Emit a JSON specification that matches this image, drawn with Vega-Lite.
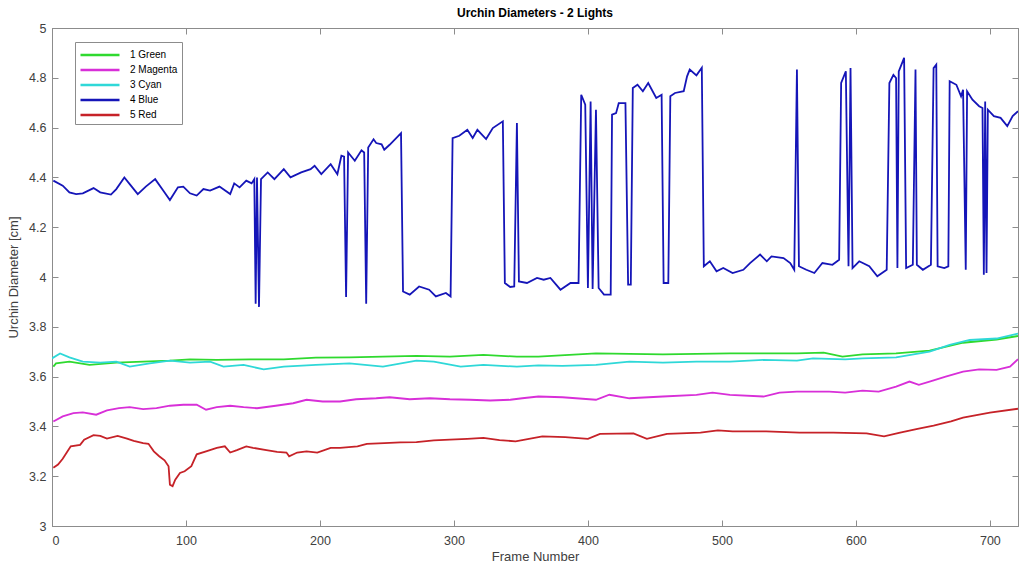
{
  "$schema": "https://vega.github.io/schema/vega-lite/v6.json",
  "width": 966,
  "height": 498,
  "autosize": "none",
  "padding": {"left": 52, "top": 28, "right": 1, "bottom": 42},
  "background": "white",
  "title": {"text": "Urchin Diameters - 2 Lights", "fontSize": 12, "fontWeight": "bold", "font": "Liberation Sans", "color": "#000000", "offset": 2},
  "config": {
    "view": {"stroke": "#8c8c8c", "strokeWidth": 1},
    "axis": {"grid": false, "domainColor": "#8c8c8c", "tickColor": "#8c8c8c", "labelColor": "#404040", "titleColor": "#404040", "labelFont": "Liberation Sans", "titleFont": "Liberation Sans", "labelFontSize": 12.5, "titleFontSize": 13, "titleFontWeight": "normal"}
  },
  "data": {"values": [
    {"s":"1 Green","f":1,"v":3.64},{"s":"1 Green","f":3,"v":3.653},{"s":"1 Green","f":13,"v":3.66},{"s":"1 Green","f":28,"v":3.647},{"s":"1 Green","f":48,"v":3.656},{"s":"1 Green","f":68,"v":3.66},{"s":"1 Green","f":88,"v":3.664},{"s":"1 Green","f":103,"v":3.669},{"s":"1 Green","f":123,"v":3.667},{"s":"1 Green","f":148,"v":3.669},{"s":"1 Green","f":173,"v":3.669},{"s":"1 Green","f":197,"v":3.676},{"s":"1 Green","f":222,"v":3.677},{"s":"1 Green","f":247,"v":3.68},{"s":"1 Green","f":272,"v":3.683},{"s":"1 Green","f":297,"v":3.68},{"s":"1 Green","f":322,"v":3.687},{"s":"1 Green","f":347,"v":3.68},{"s":"1 Green","f":363,"v":3.68},{"s":"1 Green","f":406,"v":3.693},{"s":"1 Green","f":456,"v":3.689},{"s":"1 Green","f":506,"v":3.693},{"s":"1 Green","f":556,"v":3.693},{"s":"1 Green","f":576,"v":3.696},{"s":"1 Green","f":590,"v":3.68},{"s":"1 Green","f":605,"v":3.689},{"s":"1 Green","f":630,"v":3.693},{"s":"1 Green","f":655,"v":3.704},{"s":"1 Green","f":680,"v":3.736},{"s":"1 Green","f":705,"v":3.749},{"s":"1 Green","f":721,"v":3.763},
    {"s":"2 Magenta","f":1,"v":3.42},{"s":"2 Magenta","f":8,"v":3.44},{"s":"2 Magenta","f":16,"v":3.453},{"s":"2 Magenta","f":23,"v":3.456},{"s":"2 Magenta","f":33,"v":3.447},{"s":"2 Magenta","f":41,"v":3.464},{"s":"2 Magenta","f":50,"v":3.473},{"s":"2 Magenta","f":58,"v":3.477},{"s":"2 Magenta","f":68,"v":3.469},{"s":"2 Magenta","f":78,"v":3.473},{"s":"2 Magenta","f":88,"v":3.483},{"s":"2 Magenta","f":98,"v":3.487},{"s":"2 Magenta","f":108,"v":3.487},{"s":"2 Magenta","f":115,"v":3.467},{"s":"2 Magenta","f":123,"v":3.477},{"s":"2 Magenta","f":133,"v":3.483},{"s":"2 Magenta","f":143,"v":3.477},{"s":"2 Magenta","f":153,"v":3.473},{"s":"2 Magenta","f":167,"v":3.483},{"s":"2 Magenta","f":180,"v":3.493},{"s":"2 Magenta","f":190,"v":3.507},{"s":"2 Magenta","f":202,"v":3.5},{"s":"2 Magenta","f":215,"v":3.5},{"s":"2 Magenta","f":227,"v":3.509},{"s":"2 Magenta","f":242,"v":3.513},{"s":"2 Magenta","f":252,"v":3.517},{"s":"2 Magenta","f":267,"v":3.509},{"s":"2 Magenta","f":282,"v":3.513},{"s":"2 Magenta","f":297,"v":3.509},{"s":"2 Magenta","f":312,"v":3.507},{"s":"2 Magenta","f":327,"v":3.504},{"s":"2 Magenta","f":342,"v":3.507},{"s":"2 Magenta","f":351,"v":3.513},{"s":"2 Magenta","f":363,"v":3.52},{"s":"2 Magenta","f":381,"v":3.517},{"s":"2 Magenta","f":406,"v":3.507},{"s":"2 Magenta","f":416,"v":3.527},{"s":"2 Magenta","f":431,"v":3.513},{"s":"2 Magenta","f":456,"v":3.52},{"s":"2 Magenta","f":481,"v":3.527},{"s":"2 Magenta","f":493,"v":3.536},{"s":"2 Magenta","f":506,"v":3.527},{"s":"2 Magenta","f":531,"v":3.52},{"s":"2 Magenta","f":543,"v":3.536},{"s":"2 Magenta","f":556,"v":3.54},{"s":"2 Magenta","f":580,"v":3.54},{"s":"2 Magenta","f":592,"v":3.536},{"s":"2 Magenta","f":605,"v":3.544},{"s":"2 Magenta","f":617,"v":3.54},{"s":"2 Magenta","f":630,"v":3.56},{"s":"2 Magenta","f":640,"v":3.58},{"s":"2 Magenta","f":647,"v":3.567},{"s":"2 Magenta","f":655,"v":3.58},{"s":"2 Magenta","f":667,"v":3.6},{"s":"2 Magenta","f":680,"v":3.62},{"s":"2 Magenta","f":692,"v":3.629},{"s":"2 Magenta","f":705,"v":3.627},{"s":"2 Magenta","f":715,"v":3.64},{"s":"2 Magenta","f":721,"v":3.67},
    {"s":"3 Cyan","f":0,"v":3.673},{"s":"3 Cyan","f":6,"v":3.693},{"s":"3 Cyan","f":13,"v":3.677},{"s":"3 Cyan","f":23,"v":3.66},{"s":"3 Cyan","f":36,"v":3.656},{"s":"3 Cyan","f":48,"v":3.66},{"s":"3 Cyan","f":58,"v":3.64},{"s":"3 Cyan","f":73,"v":3.653},{"s":"3 Cyan","f":88,"v":3.664},{"s":"3 Cyan","f":103,"v":3.656},{"s":"3 Cyan","f":118,"v":3.66},{"s":"3 Cyan","f":128,"v":3.64},{"s":"3 Cyan","f":143,"v":3.647},{"s":"3 Cyan","f":158,"v":3.629},{"s":"3 Cyan","f":173,"v":3.64},{"s":"3 Cyan","f":197,"v":3.647},{"s":"3 Cyan","f":222,"v":3.653},{"s":"3 Cyan","f":247,"v":3.64},{"s":"3 Cyan","f":272,"v":3.664},{"s":"3 Cyan","f":285,"v":3.66},{"s":"3 Cyan","f":305,"v":3.64},{"s":"3 Cyan","f":322,"v":3.647},{"s":"3 Cyan","f":347,"v":3.64},{"s":"3 Cyan","f":363,"v":3.645},{"s":"3 Cyan","f":381,"v":3.643},{"s":"3 Cyan","f":406,"v":3.647},{"s":"3 Cyan","f":431,"v":3.66},{"s":"3 Cyan","f":456,"v":3.656},{"s":"3 Cyan","f":481,"v":3.66},{"s":"3 Cyan","f":506,"v":3.66},{"s":"3 Cyan","f":531,"v":3.667},{"s":"3 Cyan","f":556,"v":3.664},{"s":"3 Cyan","f":568,"v":3.673},{"s":"3 Cyan","f":592,"v":3.669},{"s":"3 Cyan","f":605,"v":3.673},{"s":"3 Cyan","f":630,"v":3.677},{"s":"3 Cyan","f":655,"v":3.7},{"s":"3 Cyan","f":670,"v":3.727},{"s":"3 Cyan","f":685,"v":3.747},{"s":"3 Cyan","f":705,"v":3.753},{"s":"3 Cyan","f":721,"v":3.773},
    {"s":"4 Blue","f":1,"v":4.387},{"s":"4 Blue","f":8,"v":4.367},{"s":"4 Blue","f":13,"v":4.34},{"s":"4 Blue","f":18,"v":4.333},{"s":"4 Blue","f":23,"v":4.336},{"s":"4 Blue","f":31,"v":4.357},{"s":"4 Blue","f":36,"v":4.34},{"s":"4 Blue","f":44,"v":4.331},{"s":"4 Blue","f":48,"v":4.353},{"s":"4 Blue","f":54,"v":4.4},{"s":"4 Blue","f":58,"v":4.373},{"s":"4 Blue","f":64,"v":4.333},{"s":"4 Blue","f":70,"v":4.363},{"s":"4 Blue","f":77,"v":4.393},{"s":"4 Blue","f":83,"v":4.347},{"s":"4 Blue","f":88,"v":4.309},{"s":"4 Blue","f":94,"v":4.36},{"s":"4 Blue","f":98,"v":4.363},{"s":"4 Blue","f":103,"v":4.336},{"s":"4 Blue","f":108,"v":4.327},{"s":"4 Blue","f":113,"v":4.353},{"s":"4 Blue","f":118,"v":4.347},{"s":"4 Blue","f":125,"v":4.363},{"s":"4 Blue","f":133,"v":4.333},{"s":"4 Blue","f":136,"v":4.376},{"s":"4 Blue","f":140,"v":4.36},{"s":"4 Blue","f":145,"v":4.387},{"s":"4 Blue","f":149,"v":4.376},{"s":"4 Blue","f":151,"v":4.393},{"s":"4 Blue","f":152,"v":3.893},{"s":"4 Blue","f":153,"v":4.4},{"s":"4 Blue","f":154.5,"v":3.88},{"s":"4 Blue","f":156,"v":4.393},{"s":"4 Blue","f":161,"v":4.42},{"s":"4 Blue","f":166,"v":4.393},{"s":"4 Blue","f":173,"v":4.433},{"s":"4 Blue","f":178,"v":4.4},{"s":"4 Blue","f":186,"v":4.42},{"s":"4 Blue","f":193,"v":4.433},{"s":"4 Blue","f":196,"v":4.447},{"s":"4 Blue","f":201,"v":4.413},{"s":"4 Blue","f":208,"v":4.453},{"s":"4 Blue","f":213,"v":4.413},{"s":"4 Blue","f":216,"v":4.487},{"s":"4 Blue","f":218,"v":4.483},{"s":"4 Blue","f":219.5,"v":3.92},{"s":"4 Blue","f":221,"v":4.5},{"s":"4 Blue","f":226,"v":4.467},{"s":"4 Blue","f":231,"v":4.509},{"s":"4 Blue","f":233,"v":4.5},{"s":"4 Blue","f":234.5,"v":3.893},{"s":"4 Blue","f":236,"v":4.52},{"s":"4 Blue","f":240,"v":4.553},{"s":"4 Blue","f":242,"v":4.538},{"s":"4 Blue","f":246,"v":4.533},{"s":"4 Blue","f":248,"v":4.511},{"s":"4 Blue","f":252,"v":4.531},{"s":"4 Blue","f":260.5,"v":4.578},{"s":"4 Blue","f":262,"v":3.942},{"s":"4 Blue","f":267,"v":3.929},{"s":"4 Blue","f":274,"v":3.962},{"s":"4 Blue","f":281.5,"v":3.949},{"s":"4 Blue","f":286.5,"v":3.922},{"s":"4 Blue","f":294,"v":3.936},{"s":"4 Blue","f":297.5,"v":3.922},{"s":"4 Blue","f":299,"v":4.558},{"s":"4 Blue","f":304,"v":4.567},{"s":"4 Blue","f":310,"v":4.591},{"s":"4 Blue","f":314,"v":4.558},{"s":"4 Blue","f":317.5,"v":4.591},{"s":"4 Blue","f":324,"v":4.554},{"s":"4 Blue","f":329,"v":4.598},{"s":"4 Blue","f":336.5,"v":4.625},{"s":"4 Blue","f":338,"v":3.976},{"s":"4 Blue","f":342,"v":3.96},{"s":"4 Blue","f":345,"v":3.962},{"s":"4 Blue","f":347,"v":4.618},{"s":"4 Blue","f":348.5,"v":3.982},{"s":"4 Blue","f":354.5,"v":3.976},{"s":"4 Blue","f":362,"v":3.996},{"s":"4 Blue","f":367,"v":3.989},{"s":"4 Blue","f":372,"v":3.996},{"s":"4 Blue","f":379.5,"v":3.949},{"s":"4 Blue","f":387,"v":3.976},{"s":"4 Blue","f":393,"v":3.976},{"s":"4 Blue","f":395,"v":4.732},{"s":"4 Blue","f":398,"v":4.692},{"s":"4 Blue","f":400,"v":3.956},{"s":"4 Blue","f":402,"v":4.705},{"s":"4 Blue","f":403.5,"v":3.952},{"s":"4 Blue","f":406,"v":4.672},{"s":"4 Blue","f":408,"v":3.956},{"s":"4 Blue","f":412,"v":3.929},{"s":"4 Blue","f":417,"v":3.929},{"s":"4 Blue","f":418,"v":4.652},{"s":"4 Blue","f":421,"v":4.658},{"s":"4 Blue","f":423,"v":4.698},{"s":"4 Blue","f":428,"v":4.698},{"s":"4 Blue","f":430,"v":3.969},{"s":"4 Blue","f":432,"v":3.969},{"s":"4 Blue","f":433.5,"v":4.759},{"s":"4 Blue","f":437,"v":4.772},{"s":"4 Blue","f":441,"v":4.746},{"s":"4 Blue","f":445,"v":4.779},{"s":"4 Blue","f":451,"v":4.719},{"s":"4 Blue","f":455,"v":4.732},{"s":"4 Blue","f":456.5,"v":3.976},{"s":"4 Blue","f":460,"v":3.976},{"s":"4 Blue","f":461.5,"v":4.726},{"s":"4 Blue","f":465,"v":4.739},{"s":"4 Blue","f":471.5,"v":4.746},{"s":"4 Blue","f":474,"v":4.806},{"s":"4 Blue","f":476,"v":4.833},{"s":"4 Blue","f":481,"v":4.81},{"s":"4 Blue","f":485,"v":4.84},{"s":"4 Blue","f":486.5,"v":4.043},{"s":"4 Blue","f":491,"v":4.063},{"s":"4 Blue","f":496,"v":4.023},{"s":"4 Blue","f":501,"v":4.036},{"s":"4 Blue","f":508,"v":4.016},{"s":"4 Blue","f":516,"v":4.029},{"s":"4 Blue","f":521,"v":4.056},{"s":"4 Blue","f":528.5,"v":4.09},{"s":"4 Blue","f":533.5,"v":4.063},{"s":"4 Blue","f":537,"v":4.083},{"s":"4 Blue","f":546,"v":4.076},{"s":"4 Blue","f":551,"v":4.056},{"s":"4 Blue","f":554,"v":4.029},{"s":"4 Blue","f":556,"v":4.833},{"s":"4 Blue","f":557.5,"v":4.043},{"s":"4 Blue","f":563,"v":4.029},{"s":"4 Blue","f":569,"v":4.016},{"s":"4 Blue","f":575,"v":4.056},{"s":"4 Blue","f":582.5,"v":4.049},{"s":"4 Blue","f":587.5,"v":4.069},{"s":"4 Blue","f":589,"v":4.779},{"s":"4 Blue","f":592.5,"v":4.826},{"s":"4 Blue","f":594.5,"v":4.043},{"s":"4 Blue","f":596,"v":4.839},{"s":"4 Blue","f":597.5,"v":4.036},{"s":"4 Blue","f":602.5,"v":4.063},{"s":"4 Blue","f":610,"v":4.043},{"s":"4 Blue","f":616,"v":4.003},{"s":"4 Blue","f":623,"v":4.029},{"s":"4 Blue","f":625,"v":4.779},{"s":"4 Blue","f":628,"v":4.812},{"s":"4 Blue","f":630,"v":4.799},{"s":"4 Blue","f":631,"v":4.036},{"s":"4 Blue","f":632,"v":4.826},{"s":"4 Blue","f":636,"v":4.88},{"s":"4 Blue","f":637.5,"v":4.036},{"s":"4 Blue","f":642.5,"v":4.049},{"s":"4 Blue","f":644.5,"v":4.833},{"s":"4 Blue","f":645.5,"v":4.049},{"s":"4 Blue","f":650,"v":4.029},{"s":"4 Blue","f":656,"v":4.049},{"s":"4 Blue","f":658,"v":4.839},{"s":"4 Blue","f":660,"v":4.853},{"s":"4 Blue","f":661,"v":4.043},{"s":"4 Blue","f":666,"v":4.036},{"s":"4 Blue","f":669,"v":4.043},{"s":"4 Blue","f":670,"v":4.786},{"s":"4 Blue","f":675,"v":4.772},{"s":"4 Blue","f":678.5,"v":4.726},{"s":"4 Blue","f":680,"v":4.752},{"s":"4 Blue","f":682,"v":4.029},{"s":"4 Blue","f":683,"v":4.746},{"s":"4 Blue","f":687,"v":4.712},{"s":"4 Blue","f":692,"v":4.686},{"s":"4 Blue","f":694.5,"v":4.679},{"s":"4 Blue","f":695.5,"v":4.009},{"s":"4 Blue","f":696.5,"v":4.705},{"s":"4 Blue","f":697.5,"v":4.016},{"s":"4 Blue","f":698.5,"v":4.672},{"s":"4 Blue","f":703,"v":4.646},{"s":"4 Blue","f":708,"v":4.639},{"s":"4 Blue","f":713,"v":4.606},{"s":"4 Blue","f":717,"v":4.646},{"s":"4 Blue","f":721,"v":4.666},
    {"s":"5 Red","f":1,"v":3.234},{"s":"5 Red","f":4.5,"v":3.247},{"s":"5 Red","f":8,"v":3.27},{"s":"5 Red","f":11,"v":3.295},{"s":"5 Red","f":14,"v":3.32},{"s":"5 Red","f":21,"v":3.326},{"s":"5 Red","f":24,"v":3.347},{"s":"5 Red","f":31,"v":3.365},{"s":"5 Red","f":36,"v":3.362},{"s":"5 Red","f":41,"v":3.351},{"s":"5 Red","f":49,"v":3.362},{"s":"5 Red","f":56,"v":3.351},{"s":"5 Red","f":61,"v":3.342},{"s":"5 Red","f":68,"v":3.333},{"s":"5 Red","f":72,"v":3.33},{"s":"5 Red","f":76,"v":3.3},{"s":"5 Red","f":80,"v":3.28},{"s":"5 Red","f":84,"v":3.264},{"s":"5 Red","f":87,"v":3.24},{"s":"5 Red","f":88,"v":3.166},{"s":"5 Red","f":90,"v":3.16},{"s":"5 Red","f":92,"v":3.186},{"s":"5 Red","f":95.5,"v":3.213},{"s":"5 Red","f":99,"v":3.22},{"s":"5 Red","f":104,"v":3.24},{"s":"5 Red","f":108,"v":3.288},{"s":"5 Red","f":115,"v":3.3},{"s":"5 Red","f":123,"v":3.314},{"s":"5 Red","f":129,"v":3.32},{"s":"5 Red","f":133,"v":3.295},{"s":"5 Red","f":138,"v":3.305},{"s":"5 Red","f":145,"v":3.32},{"s":"5 Red","f":150,"v":3.314},{"s":"5 Red","f":160,"v":3.305},{"s":"5 Red","f":168,"v":3.298},{"s":"5 Red","f":175,"v":3.295},{"s":"5 Red","f":177,"v":3.28},{"s":"5 Red","f":183,"v":3.295},{"s":"5 Red","f":190,"v":3.3},{"s":"5 Red","f":198,"v":3.295},{"s":"5 Red","f":208,"v":3.314},{"s":"5 Red","f":215,"v":3.314},{"s":"5 Red","f":228,"v":3.32},{"s":"5 Red","f":235,"v":3.33},{"s":"5 Red","f":248,"v":3.333},{"s":"5 Red","f":260,"v":3.336},{"s":"5 Red","f":272,"v":3.337},{"s":"5 Red","f":285,"v":3.344},{"s":"5 Red","f":297,"v":3.347},{"s":"5 Red","f":310,"v":3.35},{"s":"5 Red","f":322,"v":3.354},{"s":"5 Red","f":334,"v":3.345},{"s":"5 Red","f":346,"v":3.34},{"s":"5 Red","f":366,"v":3.36},{"s":"5 Red","f":383,"v":3.357},{"s":"5 Red","f":400,"v":3.35},{"s":"5 Red","f":409,"v":3.37},{"s":"5 Red","f":434,"v":3.372},{"s":"5 Red","f":444,"v":3.35},{"s":"5 Red","f":459,"v":3.37},{"s":"5 Red","f":484,"v":3.375},{"s":"5 Red","f":497,"v":3.384},{"s":"5 Red","f":508,"v":3.38},{"s":"5 Red","f":533,"v":3.38},{"s":"5 Red","f":558,"v":3.375},{"s":"5 Red","f":583,"v":3.375},{"s":"5 Red","f":608,"v":3.372},{"s":"5 Red","f":621,"v":3.36},{"s":"5 Red","f":633,"v":3.375},{"s":"5 Red","f":646,"v":3.39},{"s":"5 Red","f":658,"v":3.403},{"s":"5 Red","f":671,"v":3.42},{"s":"5 Red","f":680,"v":3.435},{"s":"5 Red","f":700,"v":3.455},{"s":"5 Red","f":721,"v":3.471}
  ]},
  "layer": [
    {
      "mark": {"type": "line", "strokeWidth": 1.8, "clip": true},
      "encoding": {
        "x": {"field": "f", "type": "quantitative", "scale": {"domain": [0, 721], "nice": false, "zero": false},
              "axis": {"title": "Frame Number", "orient": "bottom", "values": [0,100,200,300,400,500,600,700], "tickSize": -6, "labelPadding": 14, "titlePadding": 4}},
        "y": {"field": "v", "type": "quantitative", "scale": {"domain": [3, 5], "nice": false, "zero": false},
              "axis": {"title": "Urchin Diameter [cm]", "orient": "left", "values": [3,3.2,3.4,3.6,3.8,4,4.2,4.4,4.6,4.8,5], "format": "~g", "tickSize": -6, "labelPadding": 12, "titlePadding": 8}},
        "color": {"field": "s", "type": "nominal",
                  "scale": {"domain": ["1 Green","2 Magenta","3 Cyan","4 Blue","5 Red"], "range": ["#2fd92f","#d82fd8","#2fd8d8","#1515b8","#c62228"]},
                  "legend": {"title": null, "orient": "none", "legendX": 23, "legendY": 14, "symbolType": "M-2.6,0H2.6", "symbolSize": 225, "symbolStrokeWidth": 2.5, "symbolOffset": 12, "labelFontSize": 10, "labelFont": "Liberation Sans", "labelColor": "#000000", "strokeColor": "#8c8c8c", "fillColor": "white", "padding": 4, "rowPadding": 1, "labelOffset": 21}}
      }
    },
    {
      "mark": {"type": "line", "strokeOpacity": 0},
      "encoding": {
        "x": {"field": "f", "type": "quantitative", "scale": {"domain": [0, 721], "nice": false, "zero": false},
              "axis": {"title": null, "orient": "top", "values": [0,100,200,300,400,500,600,700], "labels": false, "tickSize": -6}},
        "y": {"field": "v", "type": "quantitative", "scale": {"domain": [3, 5], "nice": false, "zero": false},
              "axis": {"title": null, "orient": "right", "values": [3,3.2,3.4,3.6,3.8,4,4.2,4.4,4.6,4.8,5], "labels": false, "tickSize": -6}}
      }
    }
  ],
  "resolve": {"axis": {"x": "independent", "y": "independent"}}
}
